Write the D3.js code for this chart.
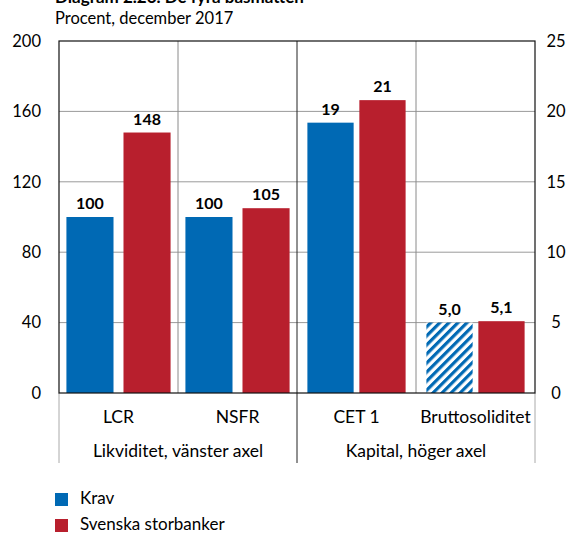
<!DOCTYPE html>
<html><head><meta charset="utf-8">
<script src="https://cdn.jsdelivr.net/npm/d3@7"></script>
<style>
body{margin:0;background:#fff;}
svg{display:block;font-family:Lato,"Open Sans",sans-serif;}
</style></head>
<body><svg id="c" width="571" height="534"></svg>
<script>
const title = "Diagram 2.26. De fyra basmåtten";
const subtitle = "Procent, december 2017";
const categories = ["LCR", "NSFR", "CET 1", "Bruttosoliditet"];
const categoryGroup = [0, 0, 1, 1];
const groups = ["Likviditet, vänster axel", "Kapital, höger axel"];
const series = ["Krav", "Svenska storbanker"];
const krav = [100, 100, 19.2, 5.0];
const storbanker = [148, 105, 20.8, 5.1];
const labelDecimals = [0, 0, 0, 1];
const leftTicks = [0, 40, 80, 120, 160, 200];
const rightTicks = [0, 5, 10, 15, 20, 25];
const hatchedKrav = [false, false, false, true];

const colors = {"Krav": "#0069b4", "Svenska storbanker": "#b81f2d"};
const svg = d3.select("#c");
const M = {left: 59, right: 535, top: 41, bottom: 393};
const locale = d3.formatLocale({decimal: ",", thousands: " ", grouping: [3], currency: ["", " kr"]});
const FS = 17.5;

const x0 = d3.scaleBand().domain(categories).range([M.left, M.right]).padding(0);
const yL = d3.scaleLinear().domain([0, 200]).range([M.bottom, M.top]);
const yR = d3.scaleLinear().domain([0, 25]).range([M.bottom, M.top]);
const x1Left = d3.scaleBand().domain(series).range([0, x0.bandwidth()]).paddingInner(0.175).paddingOuter(0.13);
const x1Right = d3.scaleBand().domain(series).range([0, x0.bandwidth()]).paddingInner(0.11).paddingOuter(0.2);

// hatch pattern
const defs = svg.append("defs");
const pat = defs.append("pattern").attr("id", "hatch").attr("patternUnits", "userSpaceOnUse")
  .attr("width", 6.4).attr("height", 6.4).attr("patternTransform", "rotate(45)");
pat.append("rect").attr("width", 6.4).attr("height", 6.4).attr("fill", "#fff");
pat.append("rect").attr("width", 3.2).attr("height", 6.4).attr("fill", colors["Krav"]);

// titles
svg.append("text").attr("x", 55).attr("y", 3).attr("font-weight", "bold").attr("font-size", 17).attr("fill", "#000").text(title);
svg.append("text").attr("x", 55).attr("y", 24).attr("font-size", 16.5).attr("fill", "#000").text(subtitle);

// gridlines
svg.append("g").selectAll("line").data(leftTicks.filter(t => t > 0 && t < 200)).join("line")
  .attr("x1", M.left).attr("x2", M.right).attr("y1", d => yL(d)).attr("y2", d => yL(d))
  .attr("stroke", "#9a9a9a").attr("stroke-width", 1);

// category dividers
const dividers = categories.slice(1).map((c, i) => ({x: x0(c), major: categoryGroup[i + 1] !== categoryGroup[i]}));
svg.append("g").selectAll("line").data(dividers).join("line")
  .attr("x1", d => d.x).attr("x2", d => d.x).attr("y1", M.top).attr("y2", d => d.major ? 463 : M.bottom)
  .attr("stroke", d => d.major ? "#222" : "#8a8a8a").attr("stroke-width", 1);
// outer extension lines below axis
svg.append("g").selectAll("line").data([M.left, M.right]).join("line")
  .attr("x1", d => d).attr("x2", d => d).attr("y1", M.bottom).attr("y2", 463)
  .attr("stroke", "#aaa").attr("stroke-width", 1);

// bars
const rows = categories.map((c, i) => ({cat: c, i, values: [krav[i], storbanker[i]]}));
const g = svg.append("g");
rows.forEach(r => {
  const y = categoryGroup[r.i] === 0 ? yL : yR;
  const x1 = categoryGroup[r.i] === 0 ? x1Left : x1Right;
  const fmt = locale.format("." + labelDecimals[r.i] + "f");
  series.forEach((s, j) => {
    const v = r.values[j];
    const xx = x0(r.cat) + x1(s);
    const fill = (j === 0 && hatchedKrav[r.i]) ? "url(#hatch)" : colors[s];
    g.append("rect").attr("x", xx).attr("y", y(v)).attr("width", x1.bandwidth()).attr("height", y(0) - y(v)).attr("fill", fill);
    g.append("text").attr("x", xx + x1.bandwidth() / 2).attr("y", y(v) - 8).attr("text-anchor", "middle")
      .attr("font-weight", "bold").attr("font-size", 16).attr("fill", "#000").text(fmt(v));
  });
});

// frame
svg.append("rect").attr("x", M.left).attr("y", M.top).attr("width", M.right - M.left).attr("height", M.bottom - M.top)
  .attr("fill", "none").attr("stroke", "#111").attr("stroke-width", 1.2);

// axes
const axL = svg.append("g").attr("transform", `translate(${M.left},0)`)
  .call(d3.axisLeft(yL).tickValues(leftTicks).tickSize(0).tickPadding(18).tickFormat(d3.format("d")));
axL.select(".domain").remove();
axL.selectAll("text").attr("font-size", 16.5).attr("fill", "#000").attr("font-family", "Lato, sans-serif");
const axR = svg.append("g").attr("transform", `translate(${M.right},0)`)
  .call(d3.axisRight(yR).tickValues(rightTicks).tickSize(0).tickPadding(21).tickFormat(d3.format("d")));
axR.select(".domain").remove();
axR.selectAll("text").attr("font-size", 16.5).attr("fill", "#000").attr("text-anchor", "middle").attr("font-family", "Lato, sans-serif");

// category labels
svg.append("g").selectAll("text").data(categories).join("text")
  .attr("x", d => x0(d) + x0.bandwidth() / 2).attr("y", 423).attr("text-anchor", "middle")
  .attr("font-size", FS).attr("fill", "#000").text(d => d);
svg.append("g").selectAll("text").data(groups).join("text")
  .attr("x", (d, gi) => {
    const cs = categories.filter((c, i) => categoryGroup[i] === gi);
    return (x0(cs[0]) + x0(cs[cs.length - 1]) + x0.bandwidth()) / 2;
  }).attr("y", 457).attr("text-anchor", "middle").attr("font-size", FS).attr("fill", "#000").text(d => d);

// legend
const lg = svg.append("g").selectAll("g").data(series).join("g")
  .attr("transform", (d, i) => `translate(55,${493 + i * 26})`);
lg.append("rect").attr("width", 13).attr("height", 13).attr("fill", d => colors[d]);
lg.append("text").attr("x", 25).attr("y", 11).attr("font-size", 17).attr("fill", "#000").text(d => d);
</script></body></html>
